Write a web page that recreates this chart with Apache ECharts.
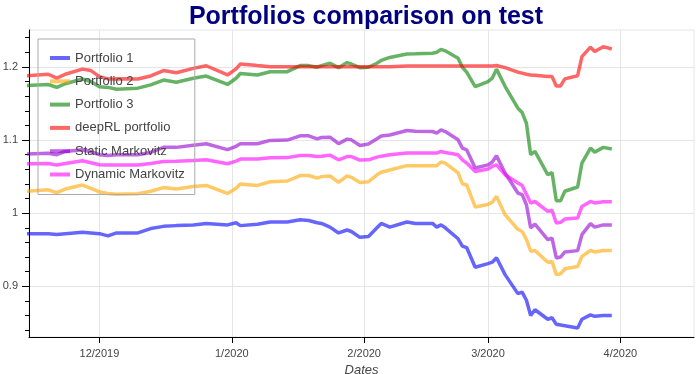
<!DOCTYPE html>
<html>
<head>
<meta charset="utf-8">
<script src="https://cdn.jsdelivr.net/npm/echarts@6/dist/echarts.min.js"></script>
<style>
  html, body { margin: 0; padding: 0; background: #fff; }
  #chart { width: 698px; height: 374px; }
</style>
</head>
<body>
<div id="chart"></div>
<script>
const dates = [
  '2019-11-14', '2019-11-19', '2019-11-21', '2019-11-23', '2019-11-27', '2019-11-29',
  '2019-12-01', '2019-12-03', '2019-12-05', '2019-12-10', '2019-12-13', '2019-12-16',
  '2019-12-19', '2019-12-23', '2019-12-26', '2019-12-31', '2020-01-02', '2020-01-03',
  '2020-01-07', '2020-01-10', '2020-01-14', '2020-01-17', '2020-01-19', '2020-01-21',
  '2020-01-22', '2020-01-24', '2020-01-26', '2020-01-28', '2020-01-29', '2020-01-31',
  '2020-02-02', '2020-02-04', '2020-02-05', '2020-02-07', '2020-02-11', '2020-02-13',
  '2020-02-17', '2020-02-18', '2020-02-19', '2020-02-20', '2020-02-23', '2020-02-24',
  '2020-02-25', '2020-02-27', '2020-03-01', '2020-03-02', '2020-03-03', '2020-03-05',
  '2020-03-08', '2020-03-09', '2020-03-10', '2020-03-11', '2020-03-12', '2020-03-15',
  '2020-03-16', '2020-03-17', '2020-03-18', '2020-03-19', '2020-03-22', '2020-03-23',
  '2020-03-25', '2020-03-26', '2020-03-28', '2020-03-30'
];

const portfolio1 = [
  0.972, 0.972, 0.971, 0.972, 0.974, 0.973,
  0.972, 0.969, 0.973, 0.973, 0.979, 0.982,
  0.983, 0.984, 0.986, 0.984, 0.987, 0.983,
  0.985, 0.988, 0.988, 0.991, 0.990, 0.987,
  0.986, 0.981, 0.973, 0.977, 0.975, 0.967,
  0.968, 0.980, 0.986, 0.981, 0.988, 0.986,
  0.986, 0.981, 0.984, 0.980, 0.965, 0.955,
  0.953, 0.926, 0.931, 0.933, 0.939, 0.916,
  0.890, 0.892, 0.881, 0.860, 0.868, 0.855,
  0.857, 0.848, 0.847, 0.846, 0.843, 0.855,
  0.861, 0.859, 0.860, 0.860
];

const portfolio2 = [
  1.030, 1.032, 1.028, 1.033, 1.0385, 1.034,
  1.029, 1.027, 1.026, 1.0265, 1.030, 1.035,
  1.033, 1.0365, 1.038, 1.027, 1.034, 1.040,
  1.038, 1.043, 1.044, 1.0515, 1.0515, 1.048,
  1.050, 1.051, 1.042, 1.051, 1.049, 1.042,
  1.043, 1.0525, 1.056, 1.059, 1.065, 1.065,
  1.065, 1.065, 1.070, 1.0685, 1.055, 1.040,
  1.039, 1.0085, 1.012, 1.015, 1.023, 0.998,
  0.978, 0.975, 0.964, 0.948, 0.949, 0.933,
  0.934, 0.916, 0.917, 0.924, 0.927, 0.941,
  0.949, 0.947, 0.949, 0.949
];

const portfolio3 = [
  1.1745, 1.176, 1.172, 1.177, 1.1835, 1.180,
  1.173, 1.172, 1.1695, 1.171, 1.1755, 1.182,
  1.179, 1.1845, 1.1875, 1.176, 1.1845, 1.191,
  1.189, 1.1935, 1.1935, 1.2018, 1.2018, 1.1996,
  1.2018, 1.205, 1.199, 1.206, 1.204, 1.199,
  1.1996, 1.205, 1.209, 1.213, 1.2178, 1.218,
  1.2187, 1.220, 1.224, 1.222, 1.212, 1.1996,
  1.193, 1.173, 1.180, 1.1846, 1.197, 1.1735,
  1.1436, 1.1376, 1.123, 1.080, 1.0844, 1.0526,
  1.0557, 1.017, 1.017, 1.030, 1.0358, 1.0685,
  1.089, 1.0835, 1.090, 1.0877
];

const deepRL = [
  1.188, 1.190, 1.1846, 1.190, 1.197, 1.195,
  1.1868, 1.1836, 1.184, 1.1835, 1.1877, 1.195,
  1.192, 1.198, 1.2016, 1.189, 1.1974, 1.204,
  1.2018, 1.2004, 1.2004, 1.2004, 1.2004, 1.2004,
  1.2004, 1.2004, 1.2004, 1.2004, 1.2004, 1.2004,
  1.2004, 1.2004, 1.2004, 1.2004, 1.2014, 1.2014,
  1.2014, 1.2014, 1.2014, 1.2014, 1.2014, 1.2014,
  1.2014, 1.2014, 1.2014, 1.2014, 1.202, 1.199,
  1.1928, 1.1915, 1.190, 1.189, 1.1885, 1.187,
  1.1868, 1.174, 1.174, 1.1836, 1.188, 1.214,
  1.227, 1.221, 1.2277, 1.2246
];

const staticMarkovitz = [
  1.081, 1.082, 1.080, 1.0845, 1.0867, 1.084,
  1.080, 1.079, 1.080, 1.080, 1.083, 1.090,
  1.090, 1.093, 1.095, 1.087, 1.0915, 1.095,
  1.095, 1.0995, 1.100, 1.1058, 1.1058, 1.1017,
  1.1035, 1.104, 1.095, 1.1013, 1.1003, 1.0926,
  1.0945, 1.1017, 1.1055, 1.107, 1.113, 1.112,
  1.1117, 1.1095, 1.114, 1.1117, 1.1003, 1.089,
  1.0867, 1.0617, 1.066, 1.070, 1.0785, 1.055,
  1.0276, 1.0253, 1.0116, 0.980, 0.985, 0.9638,
  0.966, 0.9388, 0.940, 0.947, 0.9488, 0.9706,
  0.9857, 0.981, 0.984, 0.984
];

const dynamicMarkovitz = [
  1.0676, 1.068, 1.066, 1.068, 1.0717, 1.069,
  1.0662, 1.066, 1.066, 1.066, 1.068, 1.0707,
  1.071, 1.072, 1.073, 1.0676, 1.0712, 1.074,
  1.074, 1.0758, 1.076, 1.079, 1.079, 1.0775,
  1.078, 1.0794, 1.073, 1.0775, 1.0775, 1.0726,
  1.073, 1.0767, 1.078, 1.0799, 1.0822, 1.0822,
  1.0822, 1.0822, 1.0844, 1.083, 1.0799, 1.073,
  1.0685, 1.057, 1.0603, 1.0639, 1.066, 1.0526,
  1.0412, 1.038, 1.026, 1.0139, 1.016, 1.0025,
  1.004, 0.9866, 0.9875, 0.992, 0.9934, 1.0093,
  1.0161, 1.014, 1.0157, 1.0157
];

const seriesNames = ['Portfolio 1', 'Portfolio 2', 'Portfolio 3', 'deepRL portfolio', 'Static Markovitz', 'Dynamic Markovitz'];
const seriesValues = [portfolio1, portfolio2, portfolio3, deepRL, staticMarkovitz, dynamicMarkovitz];
const seriesColors = [
  'rgba(0,0,255,0.6)', 'rgba(255,165,0,0.6)', 'rgba(0,128,0,0.6)',
  'rgba(255,0,0,0.6)', 'rgba(148,0,211,0.6)', 'rgba(255,0,255,0.6)'
];

const xTickDates = ['2019-12-01', '2020-01-01', '2020-02-01', '2020-03-01', '2020-04-01'];
const xTickLabels = ['12/2019', '1/2020', '2/2020', '3/2020', '4/2020'];
const yTicks = [0.9, 1, 1.1, 1.2];

const font = 'Liberation Sans, Arial, Helvetica, sans-serif';
// dates as day numbers (UTC) so the value axis can place them
const toDay = s => {
  const p = s.split('-');
  return Date.UTC(+p[0], +p[1] - 1, +p[2]) / 86400000;
};
const xTickValues = xTickDates.map(toDay);

const chart = echarts.init(document.getElementById('chart'));

const option = {
  animation: false,
  backgroundColor: '#fff',
  title: {
    text: 'Portfolios comparison on test',
    left: 361,
    top: 0,
    textAlign: 'center',
    textStyle: { fontFamily: font, fontSize: 25, fontWeight: 'bold', color: '#000080' }
  },
  legend: {
    orient: 'vertical',
    left: 38,
    top: 39,
    padding: [12, 10, 13, 10],
    itemGap: 9.3,
    itemWidth: 20,
    itemHeight: 14,
    borderColor: '#aaaaaa',
    borderWidth: 1,
    backgroundColor: 'transparent',
    itemStyle: { opacity: 0 },
    lineStyle: { width: 4 },
    textStyle: { fontFamily: font, fontSize: 13, color: '#444', lineHeight: 14 },
    data: seriesNames
  },
  grid: {
    left: 29, right: 4, top: 30, bottom: 37,
    outerBoundsMode: 'none',
    containLabel: false,
    show: true, borderColor: '#e5e5e5', borderWidth: 1
  },
  xAxis: {
    type: 'value',
    min: toDay('2019-11-14') + 0.5,
    max: toDay('2020-04-18') + 0.25,
    name: 'Dates',
    nameLocation: 'middle',
    nameGap: 27,
    nameTextStyle: { fontFamily: font, fontSize: 13, fontStyle: 'italic', color: '#444' },
    axisLine: { lineStyle: { color: '#000', width: 1 } },
    axisTick: { show: true, length: 6, customValues: xTickValues, lineStyle: { color: '#000' } },
    axisLabel: {
      customValues: xTickValues,
      fontFamily: font, fontSize: 11, color: '#444', margin: 11,
      formatter: v => {
        const i = xTickValues.indexOf(v);
        return i >= 0 ? xTickLabels[i] : '';
      }
    },
    splitLine: { show: true, lineStyle: { color: '#e5e5e5', width: 1 } }
  },
  yAxis: {
    type: 'value',
    min: 0.8307,
    max: 1.2505,
    splitNumber: 4,
    axisLine: { show: true, lineStyle: { color: '#000', width: 1 } },
    axisTick: { show: true, length: 7, customValues: yTicks, lineStyle: { color: '#000' } },
    minorTick: { show: true, splitNumber: 5, length: 4, lineStyle: { color: '#000' } },
    axisLabel: {
      customValues: yTicks,
      fontFamily: font, fontSize: 11, color: '#444', margin: 11
    },
    splitLine: { show: true, lineStyle: { color: '#e5e5e5', width: 1 } }
  },
  series: seriesNames.map((name, k) => ({
    name: name,
    type: 'line',
    symbol: 'none',
    showSymbol: false,
    color: seriesColors[k],
    lineStyle: { width: 3.5, color: seriesColors[k] },
    emphasis: { disabled: true },
    data: dates.map((d, i) => [toDay(d), seriesValues[k][i]])
  }))
};

chart.setOption(option);
</script>
</body>
</html>
